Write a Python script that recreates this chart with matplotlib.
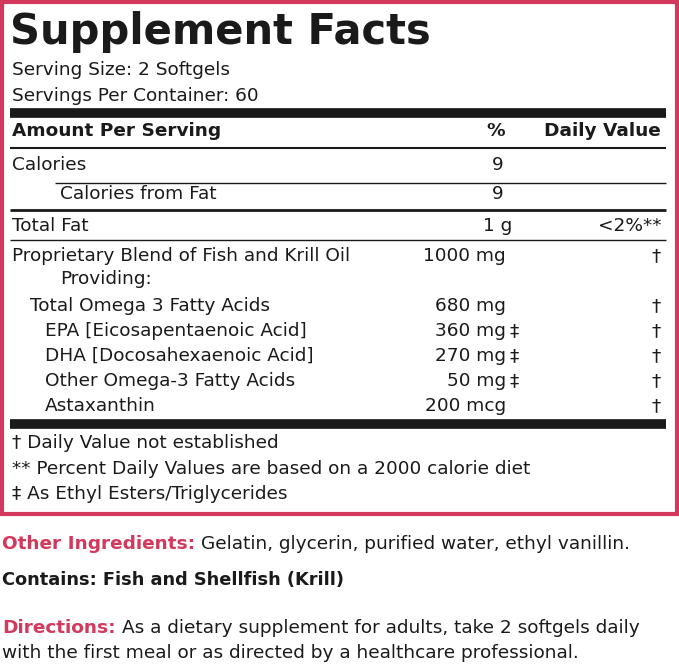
import matplotlib
matplotlib.use("Agg")
import matplotlib.pyplot as plt

FONT = "DejaVu Sans"
PINK = "#d2395c"

title = "Supplement Facts"
serving = ["Serving Size: 2 Softgels", "Servings Per Container: 60"]
rows = [  # (label, indent, y, amount, mark, dv)
    ("Calories", 12, 165, "9", "", ""),
    ("Calories from Fat", 60, 194, "9", "", ""),
    ("Total Fat", 12, 226, "1 g", "", "<2%**"),
    ("Proprietary Blend of Fish and Krill Oil", 12, 256, "1000 mg", "", "†"),
    ("Providing:", 60, 279, "", "", ""),
    ("Total Omega 3 Fatty Acids", 30, 306, "680 mg", "", "†"),
    ("EPA [Eicosapentaenoic Acid]", 45, 331, "360 mg", "‡", "†"),
    ("DHA [Docosahexaenoic Acid]", 45, 356, "270 mg", "‡", "†"),
    ("Other Omega-3 Fatty Acids", 45, 381, "50 mg", "‡", "†"),
    ("Astaxanthin", 45, 406, "200 mcg", "", "†"),
]
footnotes = ["† Daily Value not established",
             "** Percent Daily Values are based on a 2000 calorie diet",
             "‡ As Ethyl Esters/Triglycerides"]

fig = plt.figure(figsize=(6.79, 6.66), dpi=100)
ax = fig.add_axes([0, 0, 1, 1])
ax.set_xlim(0, 679); ax.set_ylim(666, 0); ax.axis("off")

ax.add_patch(plt.Rectangle((2, 2), 675, 512, fill=False, ec=PINK, lw=3))
def hline(y, x0, x1, lw):
    ax.plot([x0, x1], [y, y], color="#1a1a1a", lw=lw, solid_capstyle="butt")
hline(113, 10, 666, 7)
hline(148, 10, 666, 1.5)
hline(183, 55, 666, 1)
hline(210, 10, 666, 2)
hline(240, 10, 666, 1)
hline(424, 10, 666, 7)

kw = dict(family=FONT, color="#1a1a1a", va="center")
FS = 13.3
ax.text(10, 32, title, fontsize=30, weight="bold", **kw)
ax.text(12, 70, serving[0], fontsize=FS, **kw)
ax.text(12, 96, serving[1], fontsize=FS, **kw)
ax.text(12, 131, "Amount Per Serving", fontsize=FS, weight="bold", **kw)
ax.text(496, 131, "%", fontsize=FS, ha="center", weight="bold", **kw)
ax.text(661, 131, "Daily Value", fontsize=FS, ha="right", weight="bold", **kw)
for lab, x, y, amt, mark, dv in rows:
    ax.text(x, y, lab, fontsize=FS, **kw)
    if amt in ("9", "1 g"):
        ax.text(498, y, amt, fontsize=FS, ha="center", **kw)
    elif amt:
        ax.text(506, y, amt, fontsize=FS, ha="right", **kw)
    if mark:
        ax.text(509, y, mark, fontsize=FS, **kw)
    if dv:
        ax.text(661, y, dv, fontsize=FS, ha="right", **kw)
for i, f in enumerate(footnotes):
    ax.text(12, 443 + 25.5 * i, f, fontsize=FS, **kw)

r = fig.canvas.get_renderer()
def after(t):
    bb = t.get_window_extent(r)
    return ax.transData.inverted().transform((bb.x1, bb.y0))[0] + 6

t1 = ax.text(2, 544, "Other Ingredients:", fontsize=FS, weight="bold",
             family=FONT, color=PINK, va="center")
ax.text(after(t1), 544, "Gelatin, glycerin, purified water, ethyl vanillin.", fontsize=FS, **kw)
ax.text(2, 580, "Contains: Fish and Shellfish (Krill)", fontsize=FS - 0.5, weight="bold", **kw)
t2 = ax.text(2, 628, "Directions:", fontsize=FS, weight="bold", family=FONT, color=PINK, va="center")
ax.text(after(t2), 628, "As a dietary supplement for adults, take 2 softgels daily", fontsize=FS, **kw)
ax.text(2, 653, "with the first meal or as directed by a healthcare professional.", fontsize=FS, **kw)

fig.savefig("out.png", dpi=100)
